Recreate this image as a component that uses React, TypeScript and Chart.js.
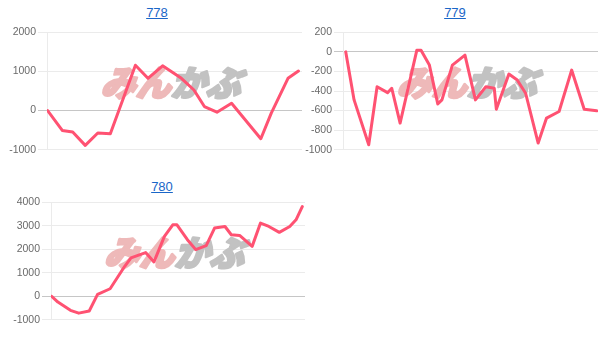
import React, { useEffect, useRef } from "react";
import { Chart, registerables } from "chart.js";

Chart.register(...registerables);

// ---- Data (x = day index, y = value) ----
const titles = ["778", "779", "780"];

const days778 = [0, 7, 12, 18, 24, 30, 42, 48, 55, 64, 70, 75, 81, 88, 102, 107, 115, 120];
const vals778 = [0, -508, -549, -890, -574, -590, 1160, 824, 1144, 824, 526, 102, -41, 188, -719, -66, 824, 1009];

const days779 = [0, 4, 11, 15, 20, 22, 26, 34, 36, 40, 44, 46, 51, 57, 62, 67, 71, 72, 78, 82, 86, 92, 96, 102, 108, 114, 120];
const vals779 = [0, -491, -949, -356, -417, -372, -728, 17, 17, -135, -532, -491, -135, -34, -491, -356, -372, -586, -227, -288, -423, -932, -677, -610, -186, -586, -603];

const days780 = [0, 3, 9, 13, 18, 22, 28, 35, 38, 45, 49, 54, 58, 60, 65, 69, 74, 78, 83, 86, 90, 96, 100, 104, 109, 114, 117, 120];
const vals780 = [0, -250, -602, -720, -631, 76, 318, 1275, 1631, 1860, 1460, 2546, 3042, 3042, 2407, 1983, 2152, 2902, 2970, 2619, 2589, 2123, 3114, 2970, 2720, 2970, 3254, 3817];

const ticks778 = { min: -1000, max: 2000, step: 1000 };
const ticks779 = { min: -1000, max: 200, step: 200 };
const ticks780 = { min: -1000, max: 4000, step: 1000 };

const LINE_COLOR = "#ff5272";
const GRID = "#ebebeb";
const ZERO = "#c6c6c6";

const watermarkPlugin = {
  id: "watermark",
  beforeDatasetsDraw(chart: any) {
    const { ctx, chartArea } = chart;
    const cx = (chartArea.left + chartArea.right) / 2;
    const cy = (chartArea.top + chartArea.bottom) / 2 - 8;
    ctx.save();
    ctx.font = '900 35px "Noto Sans CJK JP"';
    ctx.textBaseline = "middle";
    const a = "みん";
    const b = "かぶ";
    const wa = ctx.measureText(a).width;
    const wb = ctx.measureText(b).width;
    const total = wa + wb;
    ctx.translate(cx - total / 2, cy);
    ctx.transform(1, 0, -0.3, 1, 0, 0);
    ctx.lineJoin = "round";
    ctx.lineWidth = 2.5;
    ctx.fillStyle = "#eeb9b9";
    ctx.strokeStyle = "#eeb9b9";
    ctx.strokeText(a, 0, 0);
    ctx.fillText(a, 0, 0);
    ctx.fillStyle = "#c2c2c2";
    ctx.strokeStyle = "#c2c2c2";
    ctx.strokeText(b, wa, 0);
    ctx.fillText(b, wa, 0);
    ctx.restore();
  },
};

type Props = {
  xs: number[];
  ys: number[];
  t: { min: number; max: number; step: number };
  left: number;
  top: number;
  width: number;
  height: number;
  axisWidth: number;
  padRight: number;
  xMin: number;
  xMax: number;
};

function MiniChart(p: Props) {
  const ref = useRef<HTMLCanvasElement>(null);
  useEffect(() => {
    if (!ref.current) return;
    const data = p.xs.map((x, i) => ({ x, y: p.ys[i] }));
    const chart = new Chart(ref.current, {
      type: "line",
      data: {
        datasets: [
          {
            data,
            borderColor: LINE_COLOR,
            borderWidth: 3,
            pointRadius: 0,
            tension: 0,
            borderJoinStyle: "round",
            borderCapStyle: "round",
            fill: false,
          },
        ],
      },
      options: {
        animation: false,
        responsive: false,
        maintainAspectRatio: false,
        layout: { padding: { top: 8, bottom: 8, right: p.padRight, left: 0 } },
        plugins: { legend: { display: false }, tooltip: { enabled: false } },
        scales: {
          x: { type: "linear", display: false, min: p.xMin, max: p.xMax },
          y: {
            min: p.t.min,
            max: p.t.max,
            afterFit: (s: any) => {
              s.width = p.axisWidth;
            },
            ticks: {
              stepSize: p.t.step,
              padding: 2,
              color: "#6a6a6a",
              font: { family: '"Liberation Sans", Arial', size: 10.5 },
              callback: (v: any) => String(v),
            },
            grid: {
              color: (c: any) => (c.tick && c.tick.value === 0 ? ZERO : GRID),
              tickLength: 9,
              lineWidth: 1,
            },
            border: { display: true, color: GRID },
          },
        },
      },
      plugins: [watermarkPlugin],
    } as any);
    return () => chart.destroy();
  }, []);
  return (
    <canvas
      ref={ref}
      width={p.width}
      height={p.height}
      style={{ position: "absolute", left: p.left, top: p.top, width: p.width, height: p.height }}
    />
  );
}

function Title({ text, center, top }: { text: string; center: number; top: number }) {
  return (
    <div
      style={{
        position: "absolute",
        left: center - 50,
        top,
        width: 100,
        textAlign: "center",
        font: '13px "Liberation Sans", Arial, sans-serif',
      }}
    >
      <a href="#" style={{ color: "#1a66c8", textDecoration: "underline" }}>
        {text}
      </a>
    </div>
  );
}

export default function App() {
  return (
    <div style={{ position: "absolute", left: 0, top: 0, width: 605, height: 357, background: "#fff" }}>
      <Title text={titles[0]} center={157} top={5} />
      <Title text={titles[1]} center={455} top={5} />
      <Title text={titles[2]} center={162} top={179} />
      <MiniChart xs={days778} ys={vals778} t={ticks778} left={8} top={24} width={300} height={134} axisWidth={39} padRight={6} xMin={-0.3} xMax={121.7} />
      <MiniChart xs={days779} ys={vals779} t={ticks779} left={305} top={24} width={300} height={134} axisWidth={38} padRight={7} xMin={-1.3} xMax={120.6} />
      <MiniChart xs={days780} ys={vals780} t={ticks780} left={8} top={194} width={305} height={134} axisWidth={43} padRight={8} xMin={-0.3} xMax={121.3} />
    </div>
  );
}
